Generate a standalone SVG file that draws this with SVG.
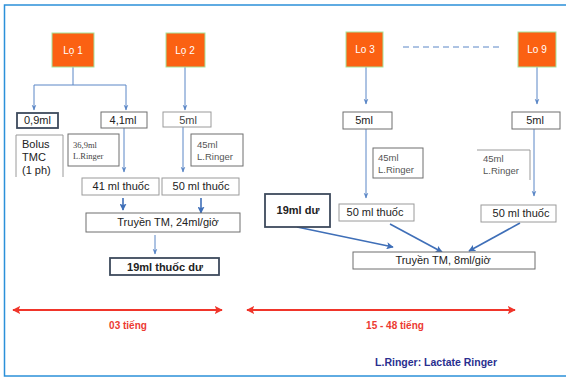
<svg xmlns="http://www.w3.org/2000/svg" width="566" height="378" viewBox="0 0 566 378">
<defs>
<style>
.t{font-family:"Liberation Sans",Arial,sans-serif;font-size:11px;fill:#222}
.m{text-anchor:middle}
.ts{font-family:"Liberation Sans",Arial,sans-serif;font-size:9.5px;fill:#555}
.tr{font-family:"Liberation Serif",serif;font-size:8.5px;fill:#444}
.b{font-weight:bold}
.lo{fill:#fb6112;stroke:#a6e39a;stroke-width:1}
.lot{font-family:"Liberation Sans",Arial,sans-serif;font-size:10px;fill:#fff;text-anchor:middle}
.box{fill:#fff;stroke:#6f6f6f;stroke-width:1}
.lbox{fill:#fff;stroke:#9a9a9a;stroke-width:1}
.dbox{fill:#fff;stroke:#3d4a5c;stroke-width:1.8}
.c{stroke:#5a86c6;stroke-width:1;fill:none}
.ct{stroke:#3f6fb8;stroke-width:1.6;fill:none}
.red{stroke:#f0352a;stroke-width:2;fill:none}
.rt{font-family:"Liberation Sans",Arial,sans-serif;font-size:10px;font-weight:bold;fill:#ec3a32;text-anchor:middle}
.lg{font-family:"Liberation Sans",Arial,sans-serif;font-size:10.5px;font-weight:bold;fill:#2a2f8f;text-anchor:end}
</style>
<marker id="a" viewBox="0 0 10 10" refX="9" refY="5" markerWidth="6" markerHeight="6" orient="auto" markerUnits="userSpaceOnUse"><path d="M0,1 L10,5 L0,9 L3,5 z" fill="#5a86c6"/></marker>
<marker id="at" viewBox="0 0 10 10" refX="9" refY="5" markerWidth="7" markerHeight="7" orient="auto" markerUnits="userSpaceOnUse"><path d="M0,0 L10,5 L0,10 L2,5 z" fill="#3f6fb8"/></marker>
<marker id="r" viewBox="0 0 10 10" refX="9" refY="5" markerWidth="8" markerHeight="8" orient="auto-start-reverse" markerUnits="userSpaceOnUse"><path d="M0,0 L10,5 L0,10 L2,5 z" fill="#f0352a"/></marker>
</defs>
<rect x="0" y="0" width="566" height="378" fill="#fff"/>
<rect x="4.5" y="5" width="570" height="371" fill="none" stroke="#2b90d9" stroke-width="1.5"/>

<g id="connectors">
<path class="c" d="M73,67 V85 M34,85 H126"/>
<path class="c" d="M34,85 V110" marker-end="url(#a)"/>
<path class="c" d="M126,85 V110" marker-end="url(#a)"/>
<path class="c" d="M185,67 V110" marker-end="url(#a)"/>
<path class="c" d="M124,128 V172" marker-end="url(#a)"/>
<path class="c" d="M183,127 V172" marker-end="url(#a)"/>
<path class="ct" d="M123,198 V210" marker-end="url(#at)"/>
<path class="ct" d="M201,198 V213" marker-end="url(#at)"/>
<path class="c" stroke="#9fb6dc" d="M155,235 V254" marker-end="url(#a)"/>
<path class="c" d="M366,67 V104" marker-end="url(#a)"/>
<path class="c" d="M537,67 V104" marker-end="url(#a)"/>
<path class="c" d="M366,129 V198" marker-end="url(#a)"/>
<path class="c" d="M534,129 V196" marker-end="url(#a)"/>
<path class="c" stroke-dasharray="6,4" stroke-width="1.5" d="M403,47 H501"/>
<path class="ct" d="M297,227 L393,247" marker-end="url(#at)"/>
<path class="ct" d="M390,224 L442,252" marker-end="url(#at)"/>
<path class="ct" d="M520,223 L469,251" marker-end="url(#at)"/>
<path class="red" d="M13,310 H222" marker-start="url(#r)" marker-end="url(#r)"/>
<path class="red" d="M247,310 H515" marker-start="url(#r)" marker-end="url(#r)"/>
</g>

<g id="lo1"><rect class="lo" x="52" y="33" width="42" height="34"/><text class="lot" x="73" y="54">Lọ 1</text></g>
<g id="lo2"><rect class="lo" x="166" y="33" width="39" height="34"/><text class="lot" x="185" y="54">Lọ 2</text></g>
<g id="lo3"><rect class="lo" x="346" y="32" width="37" height="35"/><text class="lot" x="365" y="53">Lo 3</text></g>
<g id="lo9"><rect class="lo" x="518" y="32" width="38" height="35"/><text class="lot" x="537" y="53">Lo 9</text></g>

<g id="n09"><rect class="dbox" x="17" y="113" width="41" height="15"/><text class="t" x="24" y="124">0,9ml</text></g>
<g id="n41"><rect class="box" x="101" y="112" width="46" height="16"/><text class="t m" x="123" y="124">4,1ml</text></g>
<g id="n5a"><rect class="lbox" x="163" y="112" width="48" height="15"/><text class="t m" x="188" y="124" style="fill:#444">5ml</text></g>
<g id="bolus"><path class="lbox" d="M16,177 V135 H63 V177"/><text class="t" x="22" y="148">Bolus</text><text class="t" x="22" y="161">TMC</text><text class="t" x="22" y="174">(1 ph)</text></g>
<g id="n369"><rect class="box" x="68" y="134" width="51" height="32"/><text class="tr" x="73" y="148">36,9ml</text><text class="tr" x="73" y="159" font-size="7.5">L.Ringer</text></g>
<g id="n45a"><rect class="box" x="191" y="134" width="52" height="32"/><text class="ts" x="197" y="148">45ml</text><text class="ts" x="197" y="160">L.Ringer</text></g>
<g id="n41t"><rect class="lbox" x="82" y="178" width="77" height="17"/><text class="t m" x="121" y="190" font-size="10.5">41 ml  thuốc</text></g>
<g id="n50t"><rect class="lbox" x="162" y="178" width="77" height="17"/><text class="t m" x="201" y="190" font-size="10.5">50 ml  thuốc</text></g>
<g id="tm24"><rect class="box" x="86" y="213" width="154" height="19"/><text class="t m" x="168" y="226">Truyền TM, 24ml/giờ</text></g>
<g id="n19"><rect class="dbox" x="110" y="258" width="109" height="17"/><text class="t b m" x="165" y="271" font-size="11.5">19ml thuốc dư</text></g>

<g id="n5b"><rect class="box" x="343" y="112" width="49" height="17"/><text class="t m" x="364" y="124">5ml</text></g>
<g id="n5c"><rect class="box" x="512" y="112" width="48" height="17"/><text class="t m" x="535" y="124">5ml</text></g>
<g id="n45b"><rect class="box" x="373" y="148" width="50" height="30"/><text class="ts" x="378" y="161">45ml</text><text class="ts" x="378" y="173">L.Ringer</text></g>
<g id="n45c"><path class="lbox" d="M477,150 H530 V180"/><text class="ts" x="483" y="162">45ml</text><text class="ts" x="483" y="174">L.Ringer</text></g>
<g id="n19du"><rect class="dbox" x="265" y="194" width="65" height="33"/><text class="t b m" x="298" y="214">19ml dư</text></g>
<g id="n50b"><rect class="lbox" x="339" y="204" width="75" height="17"/><text class="t m" x="375" y="216" font-size="10.5">50 ml thuốc</text></g>
<g id="n50c"><rect class="lbox" x="481" y="205" width="75" height="17"/><text class="t m" x="521" y="217" font-size="10.5">50 ml thuốc</text></g>
<g id="tm8"><rect class="box" x="353" y="252" width="182" height="17"/><text class="t m" x="443" y="264">Truyền TM, 8ml/giờ</text></g>

<text class="rt" x="128" y="329">03 tiếng</text>
<text class="rt" x="395" y="329">15 - 48 tiếng</text>
<text class="lg" x="497" y="366">L.Ringer: Lactate Ringer</text>
</svg>
